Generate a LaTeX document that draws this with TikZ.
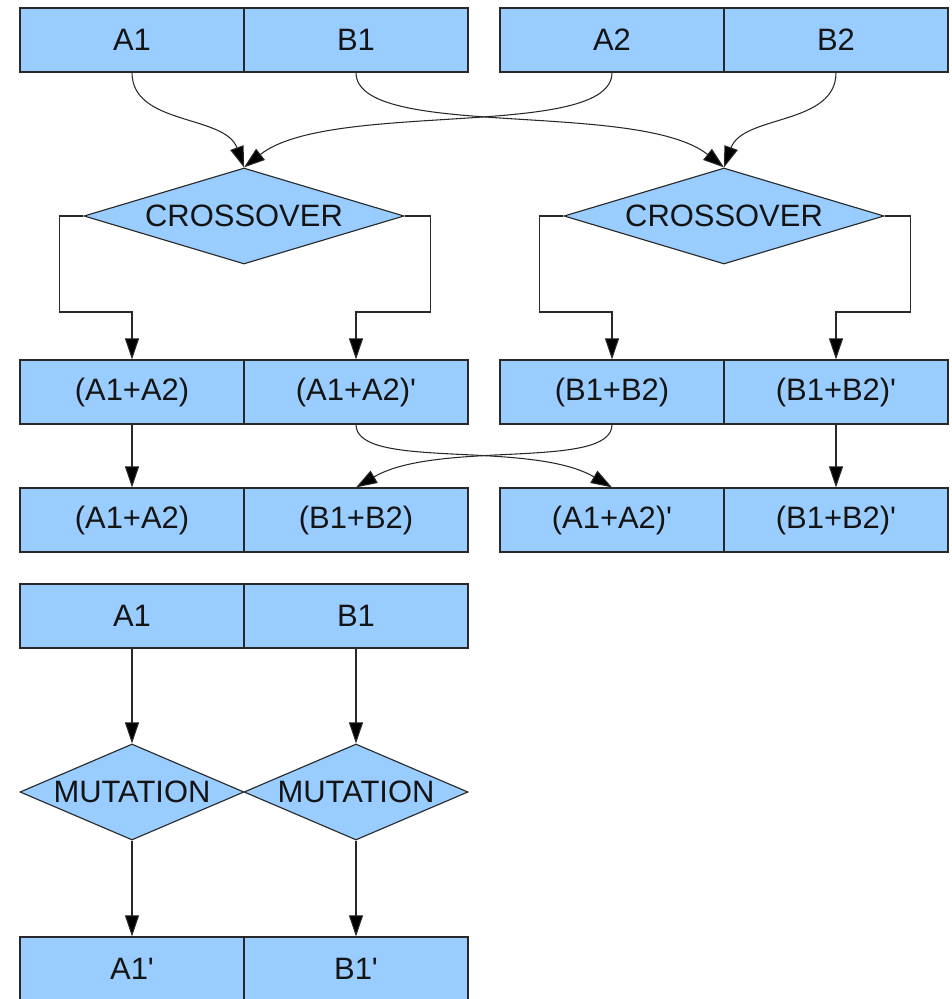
\documentclass[tikz,border=0pt]{standalone}
\usepackage{fontspec}
\setmainfont{Liberation Sans}
\usetikzlibrary{arrows.meta,shapes.geometric}
\definecolor{boxfill}{RGB}{153,204,255}
\definecolor{edge}{RGB}{40,40,40}
\newcommand{\pq}{\textquotesingle}
\begin{document}
\begin{tikzpicture}[x=0.025cm,y=-0.025cm,
  font=\fontsize{22}{26}\selectfont,
  gene/.style={rectangle,draw=edge,fill=boxfill,line width=0.8pt,minimum width=5.6cm,minimum height=1.6cm,inner sep=0pt,text=black!92},
  xdia/.style={diamond,draw=edge,fill=boxfill,line width=0.8pt,minimum width=8cm,minimum height=2.4cm,inner sep=0pt,text=black!92},
  mdia/.style={diamond,draw=edge,fill=boxfill,line width=0.8pt,minimum width=5.6cm,minimum height=2.4cm,inner sep=0pt,text=black!92},
  arr/.style={draw=edge,line width=0.75pt,-{Triangle[length=15pt,width=10pt,fill=black]}},
  ln/.style={draw=edge,line width=0.75pt}]
\useasboundingbox (0,0) rectangle (952,999);
% row 1
\node[gene] (a1) at (132,40) {A1};
\node[gene] (b1) at (356,40) {B1};
\node[gene] (a2) at (612,40) {A2};
\node[gene] (b2) at (836,40) {B2};
% crossover diamonds
\node[xdia] (cx1) at (244,216) {\makebox[0pt]{CROSSOVER}};
\node[xdia] (cx2) at (724,216) {\makebox[0pt]{CROSSOVER}};
% row 2
\node[gene] (r2a) at (132,392) {(A1+A2)};
\node[gene] (r2b) at (356,392) {(A1+A2)\pq};
\node[gene] (r2c) at (612,392) {(B1+B2)};
\node[gene] (r2d) at (836,392) {(B1+B2)\pq};
% row 3
\node[gene] (r3a) at (132,520) {(A1+A2)};
\node[gene] (r3b) at (356,520) {(B1+B2)};
\node[gene] (r3c) at (612,520) {(A1+A2)\pq};
\node[gene] (r3d) at (836,520) {(B1+B2)\pq};
% row 4
\node[gene] (r4a) at (132,616) {A1};
\node[gene] (r4b) at (356,616) {B1};
% mutation diamonds
\node[mdia] (m1) at (132,792) {\makebox[0pt]{MUTATION}};
\node[mdia] (m2) at (356,792) {\makebox[0pt]{MUTATION}};
% row 5
\node[gene] (r5a) at (132,969) {A1\pq};
\node[gene] (r5b) at (356,969) {B1\pq};
% curved connectors into crossovers
\draw[arr] (a1.south) .. controls +(0,53) and +(-19,-53) .. (cx1.north);
\draw[arr] (a2.south) .. controls +(0,68) and +(86,-68) .. (cx1.north);
\draw[arr] (b1.south) .. controls +(0,68) and +(-86,-68) .. (cx2.north);
\draw[arr] (b2.south) .. controls +(0,53) and +(19,-53) .. (cx2.north);
% crossover outputs
\draw[arr] (cx1.west) -- ++(-24,0) -- ++(0,96) -| (r2a.north);
\draw[arr] (cx1.east) -- ++(26,0) -- ++(0,96) -| (r2b.north);
\draw[arr] (cx2.west) -- ++(-24,0) -- ++(0,96) -| (r2c.north);
\draw[arr] (cx2.east) -- ++(26,0) -- ++(0,96) -| (r2d.north);
% row 2 to row 3
\draw[arr] (r2a.south) -- (r3a.north);
\draw[arr] (r2d.south) -- (r3d.north);
\draw[arr] (r2b.south) .. controls +(0,46) and +(-82,-48) .. (r3c.north);
\draw[arr] (r2c.south) .. controls +(0,46) and +(82,-48) .. (r3b.north);
% mutation
\draw[arr] (r4a.south) -- (m1.north);
\draw[arr] (r4b.south) -- (m2.north);
\draw[arr] (m1.south) -- (r5a.north);
\draw[arr] (m2.south) -- (r5b.north);
\end{tikzpicture}
\end{document}
